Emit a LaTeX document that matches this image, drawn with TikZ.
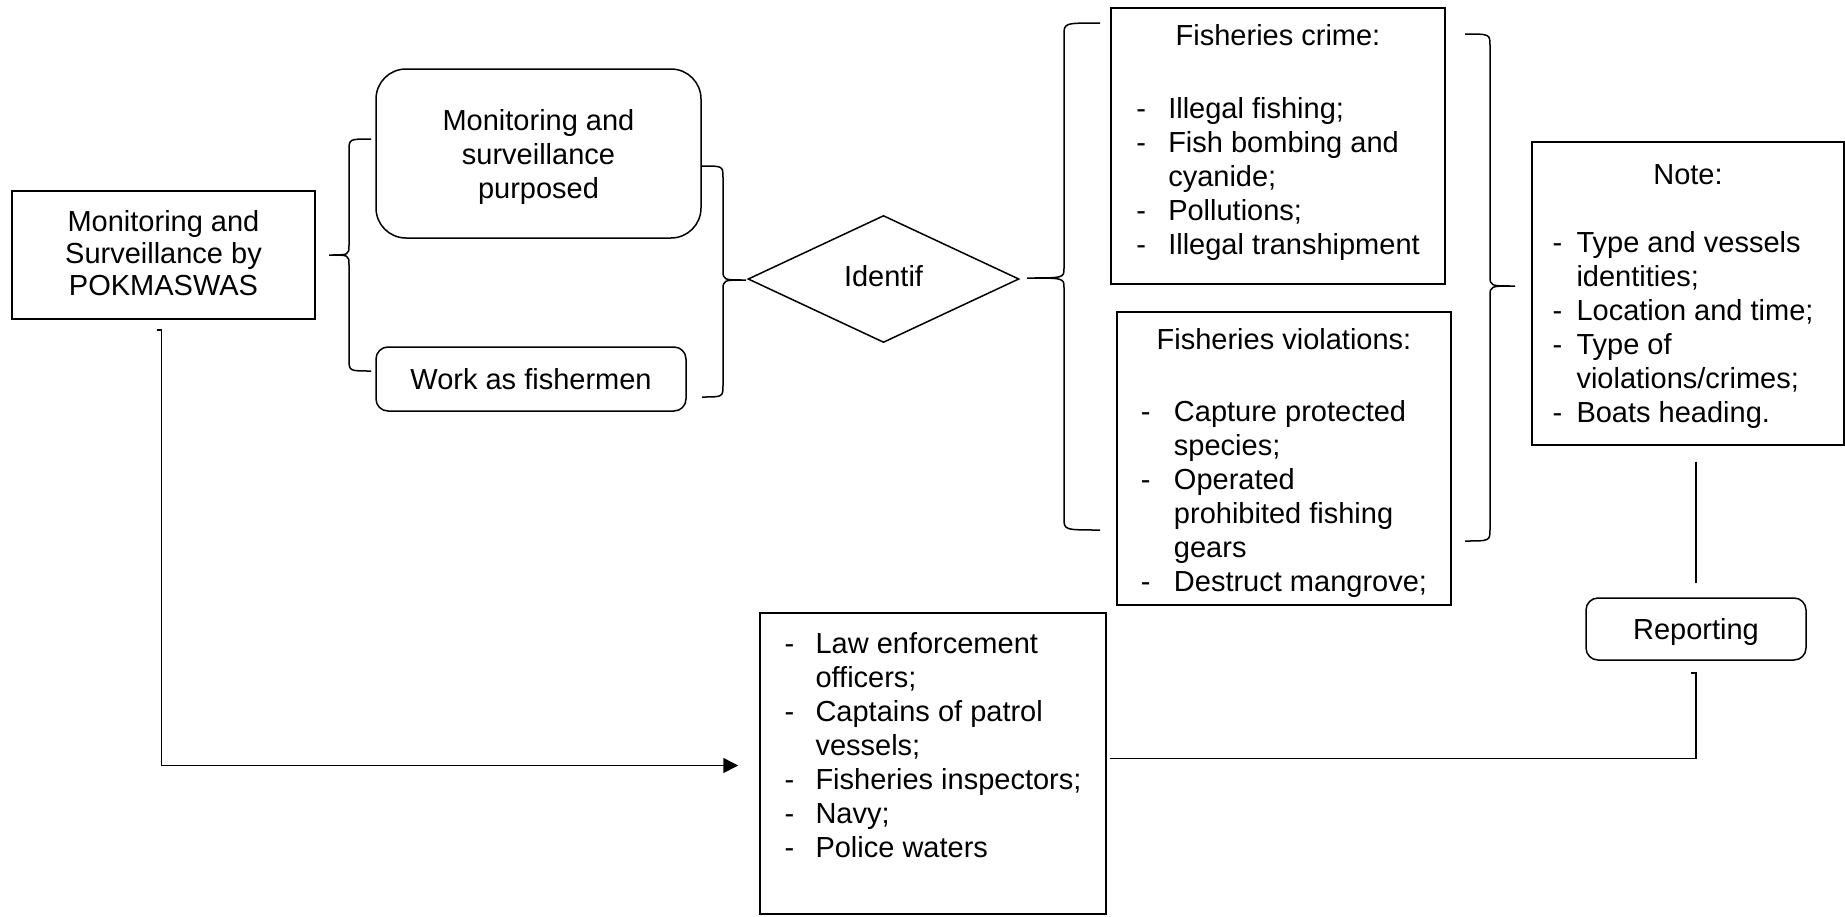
\documentclass[tikz,border=0pt]{standalone}
\usepackage{fontspec}
\setmainfont{Liberation Sans}
\usetikzlibrary{shapes.geometric,arrows.meta}

\newcommand\boxfont{\fontsize{29pt}{32pt}\selectfont}
\newcommand\listfont{\fontsize{29pt}{34pt}\selectfont}
% curly bracket: #1 x of the two ends, #2 x of the spine, #3 x of the tip,
% #4 top y, #5 tip y, #6 bottom y
\newcommand\drawbrace[6]{%
  \draw[brace] (#1,#4) .. controls (#2,#4) .. (#2,#4+12) -- (#2,#5-10)
    .. controls (#2,#5) .. (#3,#5) .. controls (#2,#5) .. (#2,#5+10)
    -- (#2,#6-12) .. controls (#2,#6) .. (#1,#6);}

\begin{document}
\begin{tikzpicture}[x=1pt,y=-1pt,
  box/.style={draw, line width=1.5pt, inner sep=0pt, align=center, font=\boxfont},
  rbox/.style={box, rounded corners=12pt},
  listbox/.style={box, font=\listfont},
  brace/.style={line width=1.5pt},
  conn/.style={line width=1.5pt}]
\useasboundingbox (0,0) rectangle (1845,916);

% main boxes
\node[box, minimum width=303pt, minimum height=128pt] (pok) at (163.5,255)
  {Monitoring and\\Surveillance by\\POKMASWAS\rule[-4pt]{0pt}{0pt}};
\node[box, rounded corners=30pt, font=\listfont, minimum width=325pt, minimum height=169pt] (purp) at (538.5,153.5)
  {\rule{0pt}{29pt}Monitoring and\\surveillance\\purposed};
\node[rbox, minimum width=310pt, minimum height=64pt] (work) at (531,379)
  {Work as fishermen};
\node[box, diamond, aspect=2.13, minimum width=271pt, minimum height=127pt] (idf) at (883.5,279)
  {Identif\rule[-7pt]{0pt}{0pt}};

\node[listbox, minimum width=334pt, minimum height=276pt] (crime) at (1278,146)
  {\begin{tabular}{@{}p{32pt}@{}l@{}}
   \multicolumn{2}{c}{Fisheries crime:}\\
   \\[5pt]
   -& Illegal fishing;\\
   -& Fish bombing and\\
    & cyanide;\\
   -& Pollutions;\\
   -& Illegal transhipment\\[5pt]
   \end{tabular}};

\node[listbox, minimum width=334pt, minimum height=293pt] (viol) at (1284,458.5)
  {\begin{tabular}{@{}p{33pt}@{}l@{}}
   \multicolumn{2}{c}{\rule{0pt}{34pt}Fisheries violations:}\\
   \\[4pt]
   -& Capture protected\\
    & species;\\
   -& Operated\\
    & prohibited fishing\\
    & gears\\
   -& Destruct mangrove;
   \end{tabular}};

\node[listbox, minimum width=312pt, minimum height=303pt] (note) at (1688,293.5)
  {\begin{tabular}{@{}p{24pt}@{}l@{\hspace{10pt}}}
   \multicolumn{2}{c}{\rule{0pt}{31pt}Note:}\\
   \\
   -& Type and vessels\\
    & identities;\\
   -& Location and time;\\
   -& Type of\\
    & violations/crimes;\\
   -& Boats heading.
   \end{tabular}};

\node[rbox, minimum width=220pt, minimum height=62pt] (rep) at (1696,629)
  {\rule{0pt}{26pt}Reporting};

\node[listbox, minimum width=346pt, minimum height=301pt] (law) at (933,763.5)
  {\begin{tabular}{@{}p{31pt}@{}l@{}}
   -& Law enforcement\\
    & officers;\\
   -& Captains of patrol\\
    & vessels;\\
   -& Fisheries inspectors;\\
   -& Navy;\\
   -& Police waters\\[29pt]
   \end{tabular}};

% brackets grouping the boxes
\drawbrace{371}{349}{329}{139}{255}{371}
\drawbrace{702}{723}{746}{166}{280}{397}
\drawbrace{1100}{1064}{1027}{23}{278}{530}
\drawbrace{1465}{1490}{1515}{34}{286}{541}

% connectors
\draw[conn, -{Triangle[length=15pt,width=15pt]}]
  ([xshift=-7pt,yshift=-10pt]pok.south) -- ++(5pt,0)
  |- ([xshift=-21pt,yshift=-2pt]law.west);

\coordinate (nb) at (rep.north |- note.south);
\draw[conn] ([yshift=-16pt]nb) -- ([yshift=14pt]rep.north);

\coordinate (le) at ([xshift=3pt,yshift=5pt]law.east);
\draw[conn] (le) -| ([yshift=-12pt]rep.south) -- ++(-5pt,0);
\end{tikzpicture}
\end{document}
